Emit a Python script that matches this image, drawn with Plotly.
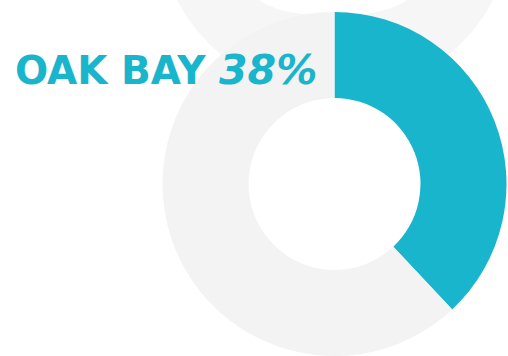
import plotly.graph_objects as go

# Share of the total held by Oak Bay, remainder drawn as a neutral ring
labels = ["Oak Bay", "Other"]
values = [38, 62]
colors = ["#19b5cc", "#f3f3f3"]

W, H = 508, 356
TEAL = "#19b5cc"


def px_x(x):
    return x / W


def px_y(y):
    return 1 - y / H


fig = go.Figure()

fig.add_trace(go.Pie(
    labels=labels,
    values=values,
    hole=0.5,
    sort=False,
    direction="clockwise",
    rotation=0,
    marker=dict(colors=colors, line=dict(width=0)),
    textinfo="none",
    hoverinfo="label+percent",
    showlegend=False,
    domain=dict(x=[px_x(162.5), px_x(506.5)], y=[0, px_y(12)]),
))

# faint ring peeking in along the top edge
shapes = [
    dict(type="circle", xref="paper", yref="paper", layer="below",
         x0=px_x(335 - 178), x1=px_x(335 + 178),
         y0=px_y(-82 + 178), y1=px_y(-82 - 178),
         fillcolor="#f6f6f6", line=dict(width=0)),
    dict(type="circle", xref="paper", yref="paper", layer="below",
         x0=px_x(333 - 80), x1=px_x(333 + 80),
         y0=px_y(-10 + 26), y1=px_y(-10 - 26),
         fillcolor="#ffffff", line=dict(width=0)),
]

label_text = (
    f"{labels[0].upper()} "
    f"<span style='font-size:41px'><i>{values[0]}%</i></span>"
)

fig.update_layout(
    width=W, height=H,
    margin=dict(l=0, r=0, t=0, b=0),
    paper_bgcolor="#ffffff",
    plot_bgcolor="#ffffff",
    shapes=shapes,
    annotations=[dict(
        text=label_text,
        xref="paper", yref="paper",
        x=px_x(319), y=px_y(69.5),
        xanchor="right", yanchor="middle",
        showarrow=False,
        font=dict(family="DejaVu Sans", size=39, color=TEAL, weight="bold"),
    )],
)

fig.write_html("out.html", config={"displayModeBar": False})
